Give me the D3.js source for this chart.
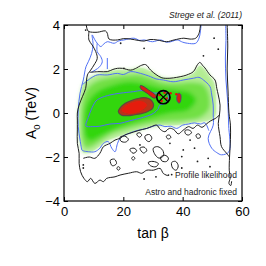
<!DOCTYPE html>
<html>
<head>
<meta charset="utf-8">
<script src="https://cdn.jsdelivr.net/npm/d3@7"></script>
<style>
  body { margin: 0; background: #fff; }
  svg { display: block; font-family: "Liberation Sans", Arial, sans-serif; }
</style>
</head>
<body>
<svg id="chart" width="266" height="266"></svg>
<script>
// axis ticks
const xTicks = [0, 20, 40, 60];
const yTicks = [-4, -2, 0, 2, 4];

// shaded profile likelihood levels (tan beta, A0 in TeV), pale -> bright
const greenPale = [[5.0,-0.5],[5.0,0.2],[5.6,0.8],[6.5,1.3],[8.2,1.55],[11,1.75],[14.6,1.85],[18,1.95],[22.5,1.95],[25.8,2.05],[29.2,1.9],[32,1.65],[35.7,1.55],[40.2,1.62],[43.6,1.8],[45.8,2.15],[47.5,1.95],[49.2,1.65],[50.5,1.4],[51,1.0],[51.2,0.4],[51,-0.1],[49.5,-0.3],[46,-0.4],[42,-0.45],[38,-0.55],[34.6,-0.55],[29,-0.62],[23.4,-0.85],[17.8,-1.08],[14,-1.3],[12.1,-1.5],[10,-1.7],[8,-1.8],[6.5,-1.8],[5.6,-1.4],[5.1,-1.0]];
const greenMid = [[5.8,-0.6],[6.2,0.5],[7.8,1.1],[11,1.45],[15,1.6],[20,1.7],[25,1.75],[29,1.6],[33,1.4],[38,1.35],[43,1.4],[47,1.3],[48.8,0.9],[49,0.2],[46,-0.2],[40,-0.35],[34,-0.4],[28,-0.5],[22,-0.7],[16,-0.95],[12,-1.3],[9,-1.55],[7,-1.55],[6.1,-1.2]];
const greenCore = [[6.8,-0.5],[7.6,0.35],[10.5,0.9],[16,1.25],[22,1.42],[28,1.3],[33,1.12],[38,1.05],[42,0.95],[44.5,0.6],[42,0.15],[36,0.0],[30,-0.2],[24,-0.42],[18,-0.68],[13,-1.0],[9,-1.25],[7.4,-1.1]];

// red high-likelihood regions
const redOuter = [[18.3,0.06],[19,0.25],[20,0.38],[21.5,0.5],[23.4,0.6],[25,0.66],[26.7,0.7],[28.5,0.66],[29.6,0.55],[30.2,0.36],[29.8,0.2],[29,0.12],[27.5,0.02],[25.6,-0.04],[23.5,-0.09],[21.5,-0.12],[19.4,-0.1]];
const redInner = [[19.5,0.1],[21,0.35],[23,0.48],[25,0.55],[27,0.5],[28,0.35],[26.5,0.15],[24,0.0],[21.5,-0.02]];
const redArm = [[25.8,1.25],[26.6,1.22],[28.5,1.05],[30.8,0.82],[31,0.7],[30.2,0.68],[28,0.9],[26.3,1.05],[25.7,1.15]];
const redSmall = [[38,0.7],[38.6,0.9],[39.3,0.85],[39.4,0.6],[38.9,0.45],[38.3,0.5]];
const redDots = [[32.2,0.82],[34.6,0.66],[33.9,0.92],[32.9,0.55],[35.9,0.9],[37.9,0.85]];
const bestFit = [33.5, 0.72];

// black contours
const blackTop = [[7.5,4.0],[7.9,3.77],[8.4,3.7],[11.2,3.67],[14,3.73],[14.6,3.62],[15.2,3.36],[18,3.32],[20,3.38],[22.5,3.36],[25,3.3],[27,3.27],[29,3.34],[31.4,3.32],[34.6,3.24],[37.1,3.32],[40.4,3.4],[42.5,3.36],[44.4,3.4],[45.5,3.62],[46,4.0]];
const blackLeft = [[8.4,3.7],[8.4,3.32],[9.5,3.09],[10.7,2.79],[11.2,2.48],[10.1,2.18],[9,1.95],[7.9,1.73],[7.3,1.12],[6.2,0.74],[5.1,0.36],[4.5,0],[4.5,-0.32],[4.5,-0.77],[4.5,-1.38],[5.1,-1.83],[5.1,-2.29],[5.6,-2.67],[6.7,-2.97],[7.9,-3.12],[9,-2.97],[10.4,-3.2],[12.1,-3.05],[13.3,-3.12],[14.4,-2.97],[17.2,-2.9],[18.9,-2.82],[21.7,-2.74],[24.5,-2.67],[26.2,-2.74],[27.9,-2.6],[30.1,-2.6],[32.4,-2.52],[33.5,-2.75],[35,-2.85]];
const blackMainUpper = [[8.6,1.85],[11.8,1.88],[14.6,1.88],[16.5,1.98],[18,2.03],[19.7,2.03],[22.5,1.95],[24.5,2.05],[25.8,2.15],[27.5,2.2],[29.2,1.95],[31,1.75],[33,1.6],[35.7,1.58],[38,1.62],[40.2,1.68],[41.4,1.73],[43.6,1.88],[45,2.2],[45.8,2.3],[46.8,2.15],[47.5,2.05],[49.2,1.73],[50.9,1.5],[51.5,1.12],[52,0.82],[52.6,0.36],[52.4,-0.09],[52,-0.47],[52.6,-1.08],[53.1,-1.53],[54.8,-1.83],[55.8,-2.0]];
const blackMainLower = [[6.5,-2.06],[8.5,-2.0],[10.4,-2.06],[12.1,-1.83],[13.3,-1.53],[15.5,-1.38],[17.2,-1.23],[18.9,-1.15],[20.5,-1.0],[22.2,-0.92],[25,-0.8],[27.9,-0.7],[29.5,-0.62],[31.2,-0.55],[32.5,-0.75],[34,-0.85],[35.5,-0.7],[37,-0.75],[38.5,-0.95],[40,-0.8],[42,-0.62],[43.5,-0.7],[45,-0.55],[46.5,-0.65],[48,-0.5],[49.5,-0.35],[51,-0.25],[52.4,-0.09]];
const blackRight = [[55.0,4.0],[55.2,3.0],[55.0,2.0],[55.3,1.0],[55.6,0.0],[56.1,-0.55],[56.1,-1.2],[55.8,-2.0],[55.7,-2.6],[56.0,-2.95],[55.6,-3.2],[56.2,-3.3],[56.5,-3.1]];
const blackIslands = [
  [[18.9,-1.1],[20.5,-1.05],[21.7,-1.2],[20.8,-1.32],[19.2,-1.28]],
  [[24.5,-0.95],[25.5,-0.9],[26.2,-1.0],[25.4,-1.1]],
  [[27.3,-1.05],[28.8,-0.98],[29.6,-1.15],[28.7,-1.3],[27.6,-1.22]],
  [[28.4,-2.25],[30,-2.2],[31.8,-2.3],[31,-2.44],[29.2,-2.4]],
  [[17.8,-2.5],[18.4,-2.44],[18.9,-2.52],[18.3,-2.6]],
  [[22.8,-2.06],[23.4,-1.98],[23.9,-2.06],[23.3,-2.14]],
  [[22.2,-1.65],[23.6,-1.6],[24.5,-1.72],[23.3,-1.83]],
  [[30.1,-1.6],[31.6,-1.53],[33.3,-1.7],[33.5,-1.95],[32,-2.05],[30.5,-1.85]],
  [[32.6,-2.0],[34,-1.92],[35.2,-2.05],[34.6,-2.2],[33,-2.18]],
  [[36.3,-2.25],[37.6,-2.2],[38.5,-2.4],[37.8,-2.6],[36.6,-2.5]],
  [[40.8,-0.8],[42,-0.77],[43,-0.88],[42,-1.0],[41,-0.95]],
  [[34.5,-1.05],[35.5,-1.0],[36,-1.12],[35,-1.18]],
  [[44.5,-1.0],[45.5,-0.95],[46,-1.1],[45,-1.15]],
  [[25.6,-1.6],[27,-1.55],[27.9,-1.7],[26.8,-1.82]],
  [[15.6,-2.15],[17,-2.1],[17.7,-2.3],[16.3,-2.4]]
];
const blackDots = [[7.3,3.77],[19.1,3.17],[27,2.94],[50.6,3.4],[20.2,2.03],[6.5,-2.36],[6.5,-2.5],[25.6,-1.45],[35.7,-1.38],[39.7,-1.98],[40.2,-1.68],[48.6,-2.06],[49.2,-2.44],[42.5,-1.23],[35.2,-2.82],[39.7,-2.5],[36.3,-2.8],[44,-1.6],[47,2.6],[52,2.9],[45,-2.2],[31,-2.9],[27,-3.0]];

// blue contours
const blueLeftTop = [[6.0,-1.68],[5.4,-1.23],[4.8,-0.62],[4.8,0.14],[5.4,0.9],[6.5,1.5],[7.4,2.1],[8.2,2.33],[9.3,2.7],[9.8,3.1],[9.5,3.55],[10.3,3.35],[11.2,3.17],[12.4,3.02],[13.5,3.15],[14.6,3.24],[16.9,3.17],[18.5,3.28],[20.2,3.32],[23.6,3.4],[25.5,3.3],[27,3.32],[29.8,3.24],[32.6,3.32],[34.5,3.22],[36,3.24],[38.2,3.32],[40,3.22],[41.6,3.17],[44.4,3.17],[45.5,3.4],[46.1,3.85],[46.2,4.0]];
const blueTopInner = [[11.2,3.17],[11.2,2.79],[12.4,2.56],[12.9,2.33],[12.0,2.1],[10.5,1.95],[9.2,1.85]];
const blueSpike = [[14.6,2.5],[14.6,2.0]];
const blueMainUpper = [[6.3,1.3],[9,1.58],[11.2,1.73],[14.6,1.73],[18,1.8],[20,1.75],[22.5,1.88],[25.8,1.8],[29.2,1.65],[31,1.55],[33.5,1.5],[36.8,1.42],[40.2,1.5],[43.6,1.58],[45.5,1.62],[47,1.5],[49.2,1.2],[49.8,0.82],[50.3,0.36],[50.3,-0.09],[50.3,-0.55],[48.6,-1.15],[49.8,-1.6],[51.5,-1.8],[53.1,-1.9],[55.6,-1.76],[55.5,-0.55],[55.2,0.5],[54.6,1.5],[54.4,2.5],[54.6,3.3],[54.5,4.0]];
const blueMainLower = [[6.0,-1.68],[6.5,-1.72],[8.2,-1.76],[10.4,-1.76],[12.1,-1.6],[13.3,-1.38],[14.9,-1.3],[16.1,-1.6],[17.2,-1.76],[18,-1.4],[18.9,-1.15],[20.6,-1.0],[23.4,-0.85],[26,-0.75],[28,-0.7],[30,-0.6],[32.4,-0.55],[34,-0.62],[36,-0.6],[38,-0.7],[40,-0.55],[42,-0.5],[44,-0.45],[46,-0.5],[47.5,-0.45],[48.8,-0.8]];
const blueInner = [[7.4,-0.59],[8.2,-0.2],[9.5,0.25],[10.8,0.55],[12.1,0.67],[15.5,0.82],[18.9,0.9],[23.4,0.97],[26,1.02],[28.5,0.98],[31,0.9],[32.8,0.98],[34.5,0.95],[35.2,0.7],[34.3,0.45],[32.2,0.35],[31.8,0.2],[30.1,-0.02],[28,-0.14],[25.6,-0.24],[22,-0.36],[18.9,-0.47],[15.5,-0.5],[12.1,-0.6],[9.5,-0.62]];

const width = 266;
const height = 266;
const margin = { top: 25, right: 24, bottom: 65, left: 64 };

const svg = d3.select('#chart');
const x = d3.scaleLinear().domain([0, 60]).range([margin.left, width - margin.right]);
const y = d3.scaleLinear().domain([-4, 4]).range([height - margin.bottom, margin.top]);

const defs = svg.append('defs');
defs.append('clipPath').attr('id', 'plot-clip')
  .append('rect')
  .attr('x', x(0)).attr('y', y(4))
  .attr('width', x(60) - x(0)).attr('height', y(-4) - y(4));
defs.append('filter').attr('id', 'soft').attr('x', '-20%').attr('y', '-20%').attr('width', '140%').attr('height', '140%')
  .append('feGaussianBlur').attr('stdDeviation', 2.2);
defs.append('filter').attr('id', 'soft-red')
  .append('feGaussianBlur').attr('stdDeviation', 0.7);

const line = d3.line().x((d) => x(d[0])).y((d) => y(d[1])).curve(d3.curveCatmullRom.alpha(0.5));
const loop = d3.line().x((d) => x(d[0])).y((d) => y(d[1])).curve(d3.curveCatmullRomClosed.alpha(0.5));

const plot = svg.append('g').attr('clip-path', 'url(#plot-clip)');

// green shading
plot.append('path').attr('d', loop(greenPale)).attr('fill', '#d4f5c2');
const shade = plot.append('g').attr('filter', 'url(#soft)');
shade.append('path').attr('d', loop(greenPale)).attr('fill', '#b2ec92');
shade.append('path').attr('d', loop(greenMid)).attr('fill', '#72e044');
shade.append('path').attr('d', loop(greenCore)).attr('fill', '#30d60a');

// contours
const black = '#1e1e1e';
const blue = '#5070f5';
const contours = plot.append('g').attr('fill', 'none').attr('stroke-width', 1);

[blueLeftTop, blueTopInner, blueSpike, blueMainUpper, blueMainLower].forEach((pts) => {
  contours.append('path').attr('d', line(pts)).attr('stroke', blue);
});
contours.append('path').attr('d', loop(blueInner)).attr('stroke', blue);

[blackTop, blackLeft, blackMainUpper, blackMainLower, blackRight].forEach((pts) => {
  contours.append('path').attr('d', line(pts)).attr('stroke', black);
});
blackIslands.forEach((pts) => {
  contours.append('path').attr('d', loop(pts)).attr('stroke', black);
});
plot.append('g').selectAll('circle').data(blackDots).join('circle')
  .attr('cx', (d) => x(d[0])).attr('cy', (d) => y(d[1])).attr('r', 0.9).attr('fill', black);

// red regions
const red = plot.append('g');
red.append('path').attr('d', loop(redOuter)).attr('fill', '#b8321a').attr('stroke', '#5b4a40').attr('stroke-width', 1.2);
red.append('path').attr('d', loop(redInner)).attr('fill', '#e61e0c').attr('filter', 'url(#soft-red)');
red.append('path').attr('d', loop(redArm)).attr('fill', '#d81f12').attr('stroke', '#4a3a5a').attr('stroke-width', 0.9);
red.append('path').attr('d', loop(redSmall)).attr('fill', '#d81f12').attr('stroke', '#4a4a8a').attr('stroke-width', 0.9);
red.selectAll('circle').data(redDots).join('circle')
  .attr('cx', (d) => x(d[0])).attr('cy', (d) => y(d[1])).attr('r', 1.3).attr('fill', '#e01010');

// best fit marker
const bf = plot.append('g').attr('transform', `translate(${x(bestFit[0])},${y(bestFit[1])})`);
bf.append('circle').attr('r', 6.6).attr('fill', 'none').attr('stroke', '#000').attr('stroke-width', 1.7);
bf.append('path').attr('d', 'M-4.6,-4.6L4.6,4.6M-4.6,4.6L4.6,-4.6').attr('stroke', '#000').attr('stroke-width', 1.1);

// frame and axes
svg.append('rect')
  .attr('x', x(0)).attr('y', y(4))
  .attr('width', x(60) - x(0)).attr('height', y(-4) - y(4))
  .attr('fill', 'none').attr('stroke', '#000').attr('stroke-width', 1.2);

const styleAxis = (g) => {
  g.select('.domain').remove();
  g.selectAll('.tick line').attr('stroke', '#000').attr('stroke-width', 1);
  g.selectAll('.tick text').attr('fill', '#000').style('font-size', '13px').style('font-family', '"Liberation Sans", Arial, sans-serif');
};

svg.append('g').attr('transform', `translate(0,${y(-4)})`)
  .call(d3.axisBottom(x).tickValues(xTicks).tickSize(-4).tickPadding(6).tickFormat(d3.format('d')))
  .call(styleAxis);
svg.append('g').attr('transform', `translate(0,${y(4)})`)
  .call(d3.axisTop(x).tickValues(xTicks).tickSize(-4).tickFormat(''))
  .call(styleAxis);
svg.append('g').attr('transform', `translate(${x(0)},0)`)
  .call(d3.axisLeft(y).tickValues(yTicks).tickSize(-4).tickPadding(4).tickFormat((d) => (d < 0 ? `\u2212${-d}` : `${d}`)))
  .call(styleAxis);
svg.append('g').attr('transform', `translate(${x(60)},0)`)
  .call(d3.axisRight(y).tickValues(yTicks).tickSize(-4).tickFormat(''))
  .call(styleAxis);

// labels
svg.append('text')
  .attr('x', x(60)).attr('y', 18)
  .attr('text-anchor', 'end').attr('font-style', 'italic').attr('font-size', 8.6).attr('fill', '#222')
  .text('Strege et al. (2011)');

const yLabel = svg.append('text')
  .attr('transform', `translate(36,${y(0)}) rotate(-90)`)
  .attr('text-anchor', 'middle').attr('font-size', 14).attr('fill', '#000');
yLabel.append('tspan').text('A');
yLabel.append('tspan').attr('font-size', 9.5).attr('dy', 4).text('0');
yLabel.append('tspan').attr('dy', -4).text(' (TeV)');

svg.append('text')
  .attr('x', (x(0) + x(60)) / 2).attr('y', 238)
  .attr('text-anchor', 'middle').attr('font-size', 14).attr('fill', '#000')
  .text('tan \u03b2');

svg.append('text')
  .attr('x', x(58.3)).attr('y', 178)
  .attr('text-anchor', 'end').attr('font-size', 8.5).attr('fill', '#222')
  .text('Profile likelihood');
svg.append('text')
  .attr('x', x(58.3)).attr('y', 195)
  .attr('text-anchor', 'end').attr('font-size', 8.5).attr('fill', '#222')
  .text('Astro and hadronic fixed');
</script>
</body>
</html>
